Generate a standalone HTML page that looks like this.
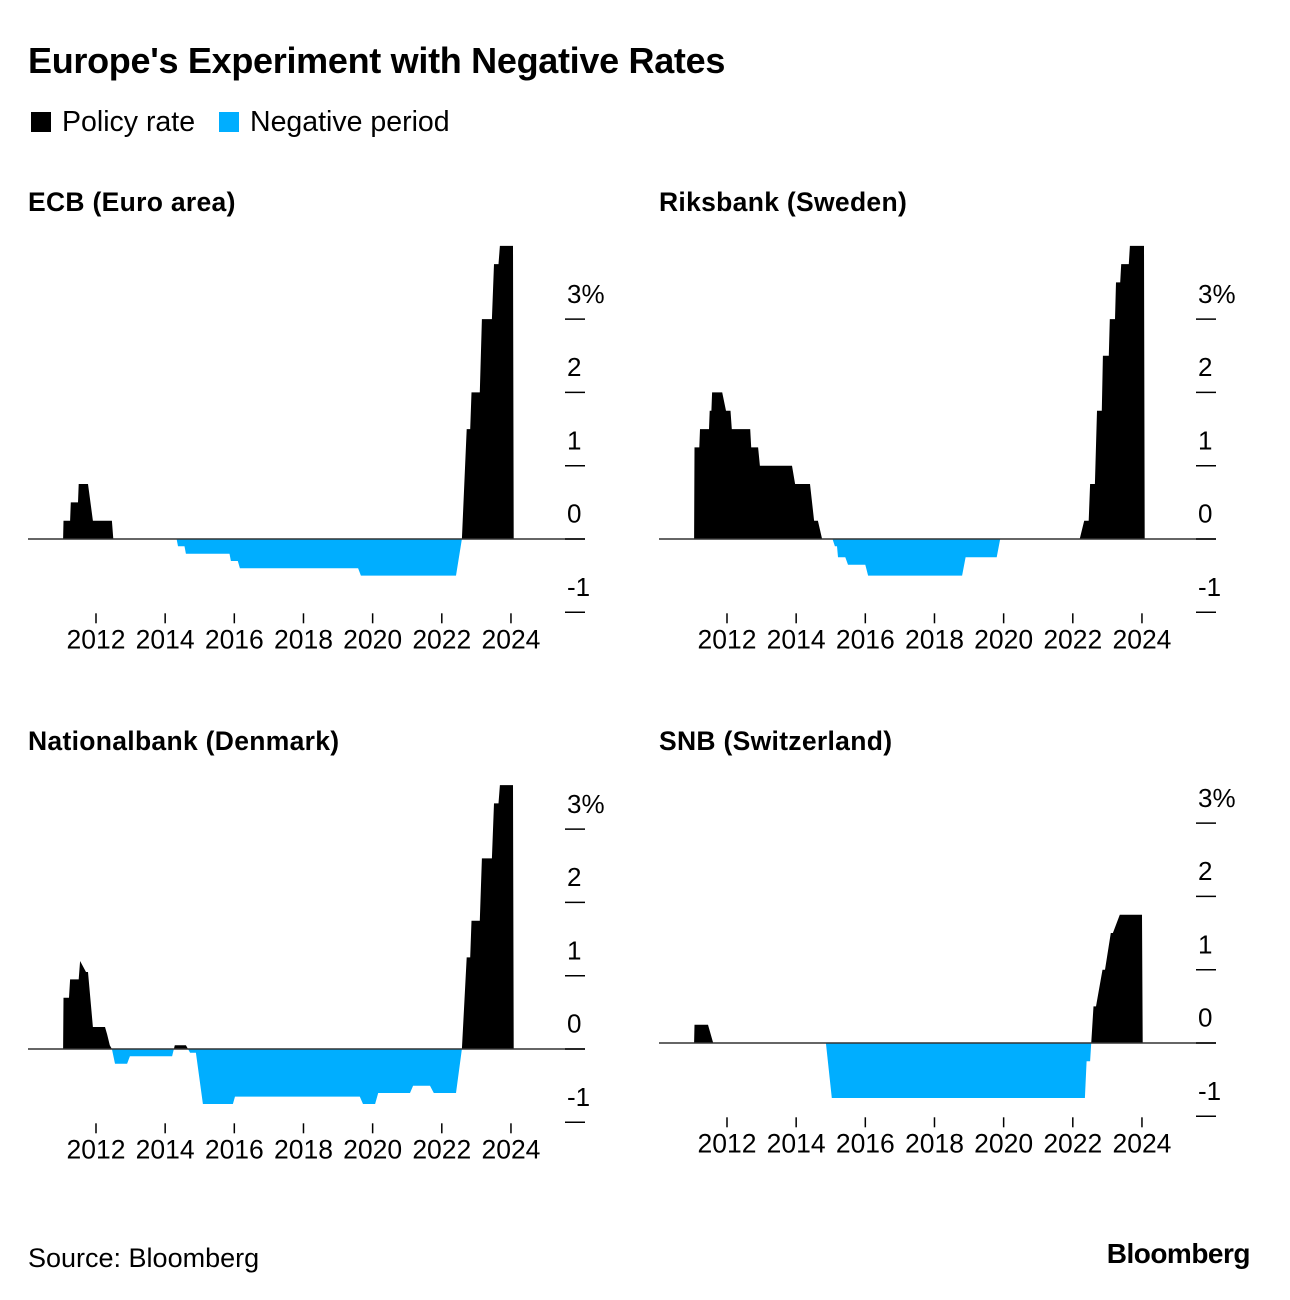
<!DOCTYPE html>
<html><head><meta charset="utf-8">
<style>
body{margin:0;background:#fff;width:1290px;height:1300px;overflow:hidden;font-family:"Liberation Sans",Arial,sans-serif;color:#000}
svg{position:absolute;left:0;top:0}
</style></head>
<body>
<svg width="1290" height="1300">
<text x="28" y="73" font-size="36" font-weight="bold" letter-spacing="-0.3">Europe's Experiment with Negative Rates</text>
<rect x="31" y="112" width="20" height="20" fill="#000"/>
<text x="62" y="131" font-size="28.5">Policy rate</text>
<rect x="219" y="112" width="20" height="20" fill="#00aeff"/>
<text x="250" y="131" font-size="28.5">Negative period</text>
<text x="28" y="1267" font-size="27">Source: Bloomberg</text>
<text x="1250" y="1263" font-size="28" font-weight="bold" text-anchor="end" letter-spacing="-0.5">Bloomberg</text>
<g id="panels"></g>
</svg>
<script>
const ecbYears=[2011.05,2011.06,2011.25,2011.27,2011.48,2011.5,2011.77,2011.91,2012.46,2012.5,2014.33,2014.37,2014.56,2014.6,2015.86,2015.9,2016.1,2016.16,2019.58,2019.66,2022.41,2022.58,2022.72,2022.76,2022.82,2022.86,2023.1,2023.16,2023.45,2023.51,2023.64,2023.68,2024.06,2024.08];
const ecbValues=[0,0.25,0.25,0.5,0.5,0.75,0.75,0.25,0.25,0,0,-0.1,-0.1,-0.2,-0.2,-0.3,-0.3,-0.4,-0.4,-0.5,-0.5,0,1.5,1.5,1.5,2.0,2.0,3.0,3.0,3.75,3.75,4.0,4.0,0];
const riksYears=[2011.05,2011.06,2011.2,2011.22,2011.48,2011.5,2011.55,2011.57,2011.86,2011.97,2012.1,2012.14,2012.67,2012.7,2012.9,2012.95,2013.88,2013.97,2014.4,2014.52,2014.63,2014.75,2015.05,2015.12,2015.18,2015.21,2015.42,2015.5,2016.0,2016.08,2018.8,2018.9,2019.8,2019.9,2022.2,2022.33,2022.46,2022.5,2022.64,2022.7,2022.84,2022.87,2023.04,2023.07,2023.22,2023.25,2023.37,2023.4,2023.62,2023.65,2024.06,2024.08];
const riksValues=[0,1.25,1.25,1.5,1.5,1.75,1.75,2.0,2.0,1.75,1.75,1.5,1.5,1.25,1.25,1.0,1.0,0.75,0.75,0.25,0.25,0,0,-0.1,-0.1,-0.25,-0.25,-0.35,-0.35,-0.5,-0.5,-0.25,-0.25,0,0,0.25,0.25,0.75,0.75,1.75,1.75,2.5,2.5,3.0,3.0,3.5,3.5,3.75,3.75,4.0,4.0,0];
const dkYears=[2011.05,2011.06,2011.22,2011.25,2011.5,2011.54,2011.71,2011.77,2011.91,2012.26,2012.32,2012.4,2012.46,2012.55,2012.9,2012.98,2014.2,2014.28,2014.6,2014.72,2014.89,2015.09,2015.96,2016.02,2019.63,2019.72,2020.07,2020.16,2021.08,2021.17,2021.66,2021.77,2022.41,2022.58,2022.72,2022.76,2022.82,2022.86,2023.1,2023.16,2023.45,2023.51,2023.64,2023.68,2024.06,2024.08];
const dkValues=[0,0.7,0.7,0.95,0.95,1.2,1.05,1.05,0.3,0.3,0.2,0.05,0,-0.2,-0.2,-0.1,-0.1,0.05,0.05,-0.05,-0.05,-0.75,-0.75,-0.65,-0.65,-0.75,-0.75,-0.6,-0.6,-0.5,-0.5,-0.6,-0.6,0,1.25,1.25,1.25,1.75,1.75,2.6,2.6,3.35,3.35,3.6,3.6,0];
const snbYears=[2011.05,2011.06,2011.45,2011.6,2014.86,2015.03,2022.35,2022.4,2022.5,2022.6,2022.67,2022.86,2022.93,2023.1,2023.16,2023.36,2023.42,2024.0,2024.02];
const snbValues=[0,0.25,0.25,0,0,-0.75,-0.75,-0.25,-0.25,0.5,0.5,1.0,1.0,1.5,1.5,1.75,1.75,1.75,0];
const xTickLabels=['2012','2014','2016','2018','2020','2022','2024'];
const xTickYears=[2012,2014,2016,2018,2020,2022,2024];
const yTickValues=[-1,0,1,2,3];

const NS='http://www.w3.org/2000/svg';
const root=document.getElementById('panels');
function mk(tag,attrs,parent){const e=document.createElementNS(NS,tag);for(const k in attrs)e.setAttribute(k,attrs[k]);(parent||root).appendChild(e);return e;}
const panels=[
 {title:'ECB (Euro area)',name:'ecb',ox:0,zero:539,titleY:211,years:ecbYears,values:ecbValues},
 {title:'Riksbank (Sweden)',name:'riksbank',ox:631,zero:539,titleY:211,years:riksYears,values:riksValues},
 {title:'Nationalbank (Denmark)',name:'nationalbank',ox:0,zero:1049,titleY:750,years:dkYears,values:dkValues},
 {title:'SNB (Switzerland)',name:'snb',ox:631,zero:1043,titleY:750,years:snbYears,values:snbValues}
];
const PPU=73.3, PPY=34.58;
panels.forEach((p,i)=>{
  const g=mk('g',{});
  
  
  const xs=y=>p.ox+96+(y-2012)*PPY;
  const ys=v=>p.zero-v*PPU;
  const t=mk('text',{x:p.ox+28,y:p.titleY,'font-size':26.5,'font-weight':'bold','letter-spacing':'0.3'},g);
  t.textContent=p.title;
  
  
  const top=ys(4), bot=ys(-1.3);
  const cid='c'+i;
  const defs=mk('defs',{},g);
  const cp=mk('clipPath',{id:cid+'p'},defs); mk('rect',{x:p.ox,y:top,width:600,height:p.zero-top},cp);
  const cn=mk('clipPath',{id:cid+'n'},defs); mk('rect',{x:p.ox,y:p.zero,width:600,height:bot-p.zero},cn);
  let d='M'+xs(p.years[0])+','+ys(0);
  p.years.forEach((y,k)=>{d+=' L'+xs(y).toFixed(1)+','+ys(p.values[k]).toFixed(1);});
  d+=' L'+xs(p.years[p.years.length-1])+','+ys(0)+' Z';
  const a1=mk('path',{d:d,fill:'#000','clip-path':'url(#'+cid+'p)'},g);
  
  
  const a2=mk('path',{d:d,fill:'#00aeff','clip-path':'url(#'+cid+'n)'},g);
  
  
  const base=mk('line',{x1:p.ox+28,x2:p.ox+585,y1:p.zero,y2:p.zero,stroke:'#333','stroke-width':1.5},g);
  
  
  yTickValues.forEach(v=>{
    const l=mk('line',{x1:p.ox+565,x2:p.ox+585,y1:ys(v),y2:ys(v),stroke:'#000','stroke-width':1.5},g);
    
    
    const tx=mk('text',{x:p.ox+567,y:ys(v+0.25)+2,'font-size':26},g);
    tx.textContent=v===3?'3%':String(v);
    
    
  });
  xTickYears.forEach((y,k)=>{
    const l=mk('line',{x1:xs(y),x2:xs(y),y1:ys(-1)+1,y2:ys(-1)+11,stroke:'#000','stroke-width':1.5},g);
    
    
    const tx=mk('text',{x:xs(y),y:ys(-1)+36,'font-size':26.5,'text-anchor':'middle'},g);
    tx.textContent=xTickLabels[k];
    
    
  });
});
</script>
</body></html>
